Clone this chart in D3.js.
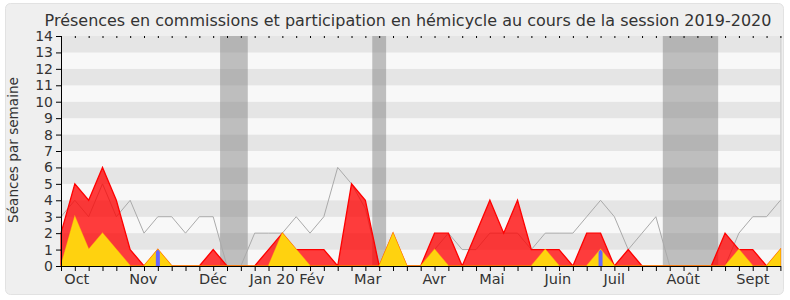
<!DOCTYPE html>
<html><head><meta charset="utf-8">
<script src="https://cdn.jsdelivr.net/npm/d3@7"></script>
<style>
body{margin:0;background:#fff}
svg{display:block}
text{font-family:"DejaVu Sans",sans-serif;fill:#333}
</style>
</head><body>
<svg id="c" width="790" height="300"></svg>
<script>
// ---- data ----
const titleText = "Présences en commissions et participation en hémicycle au cours de la session 2019-2020";
const yLabel = "Séances par semaine";
const weekIndex = d3.range(53);
const presences = [2,5,4,6,4,1,0,1,0,0,0,1,0,0,0,1,2,1,1,1,0,5,4,0,2,0,0,2,2,0,2,4,2,4,1,1,1,0,2,2,0,1,0,0,0,0,0,0,2,1,1,0,1];
const participations = [0,3,1,2,1,0,0,1,0,0,0,0,0,0,0,0,2,1,0,0,0,0,0,0,2,0,0,1,0,0,0,0,0,0,0,1,0,0,0,1,0,0,0,0,0,0,0,0,0,1,0,0,1];
const mediane = [3,4,3,5,3,4,2,3,3,2,3,3,0,0,2,2,2,3,2,3,6,5,3.5,0,0,0,0,1,2,1,1,2,2,2,1,2,2,2,3,4,3,1,2,3,0,0,0,0,0,2,3,3,4];
const questions = [{week:7,value:1},{week:39,value:1}];
const vacances = [[11.5,13.5],[22.5,23.5],[43.5,47.5]];
const monthLabels = ["Oct","Nov","Déc","Jan 20","Fév","Mar","Avr","Mai","Juin","Juil","Août","Sept"];
const monthPos = [1.14,5.95,10.99,15.26,18.13,22.17,26.98,31.15,35.91,39.99,44.98,50.01];
const yTicks = d3.range(0,15);

// ---- layout ----
const L=61, R=780.4, T=36, B=266;
const svg = d3.select("#c");
const x = d3.scaleLinear().domain([0,52]).range([L,R]);
const y = d3.scaleLinear().domain([0,14]).range([B,T]);

svg.append("rect").attr("x",5.5).attr("y",3.5).attr("width",778).attr("height",291)
  .attr("rx",5).attr("fill","#efefef").attr("stroke","#e2e2e2");

// title
const title = svg.append("text").attr("x",408).attr("y",26).attr("text-anchor","middle")
  .style("font-size","16px").text(titleText);
const tw = title.node().getComputedTextLength();
title.style("font-size", (16*727/tw)+"px");

// background bands
svg.append("g").selectAll("rect").data(yTicks.slice(0,14)).join("rect")
  .attr("x",L).attr("width",R-L)
  .attr("y",d=>y(d+1)).attr("height",d=>y(d)-y(d+1))
  .attr("fill",d=>d%2===0?"#f8f8f8":"#e5e5e5");

// vacation bands
svg.append("g").selectAll("rect").data(vacances).join("rect")
  .attr("x",d=>x(d[0])).attr("width",d=>x(d[1])-x(d[0]))
  .attr("y",T).attr("height",B-T)
  .attr("fill","rgba(120,120,120,0.45)");

// right border
svg.append("line").attr("x1",R+0.5).attr("x2",R+0.5).attr("y1",T).attr("y2",B)
  .attr("stroke","#c8c8c8");

// median line
svg.append("path").datum(weekIndex)
  .attr("d",d3.line().x(i=>x(i)).y(i=>y(mediane[i])))
  .attr("fill","none").attr("stroke","#aaaaaa").attr("stroke-width",1);

// red area
const areaOf = arr => d3.area().x(i=>x(i)).y0(y(0)).y1(i=>y(arr[i]));
svg.append("path").datum(weekIndex).attr("d",areaOf(presences))
  .attr("fill","rgba(255,0,0,0.76)").attr("stroke","#ff0000").attr("stroke-width",1.3);

// yellow area
svg.append("defs").append("clipPath").attr("id","yclip")
  .append("path").datum(weekIndex).attr("d",areaOf(participations));
svg.append("path").datum(weekIndex).attr("d",areaOf(participations))
  .attr("fill","#ffd20f").attr("stroke","rgba(255,230,0,0.6)").attr("stroke-width",1.3);

// blue bars
svg.append("g").attr("clip-path","url(#yclip)").selectAll("rect").data(questions).join("rect")
  .attr("x",d=>x(d.week)-2).attr("width",4)
  .attr("y",d=>y(d.value)).attr("height",d=>y(0)-y(d.value))
  .attr("fill","#6666ff");

// axes
const ax = svg.append("g").attr("transform",`translate(0,${B})`)
  .call(d3.axisBottom(x).tickValues(weekIndex).tickSize(5).tickSizeOuter(0).tickFormat(""));
ax.select(".domain").attr("stroke","#000");
ax.selectAll(".tick line").attr("stroke","#000");

const at = svg.append("g").attr("transform",`translate(0,${T})`)
  .call(d3.axisTop(x).tickValues(weekIndex).tickSize(-2).tickSizeOuter(0).tickFormat(""));
at.select(".domain").remove();
at.selectAll(".tick line").attr("stroke","#000");

const ay = svg.append("g").attr("transform",`translate(${L},0)`)
  .call(d3.axisLeft(y).tickValues(yTicks).tickSize(5).tickSizeOuter(0).tickPadding(3));
ay.select(".domain").attr("stroke","#000");
ay.selectAll(".tick line").attr("stroke","#000");
ay.selectAll(".tick text").style("font-size","14px").style("font-family","DejaVu Sans").attr("fill","#333");

// month labels
svg.append("g").selectAll("text").data(monthLabels).join("text")
  .attr("x",(d,i)=>x(monthPos[i])).attr("y",283.5).attr("text-anchor","middle")
  .style("font-size","14.5px").text(d=>d);

// y label
svg.append("text").attr("transform","translate(18,150) rotate(-90)")
  .attr("text-anchor","middle").style("font-size","13.6px").text(yLabel);
</script>
</body></html>
